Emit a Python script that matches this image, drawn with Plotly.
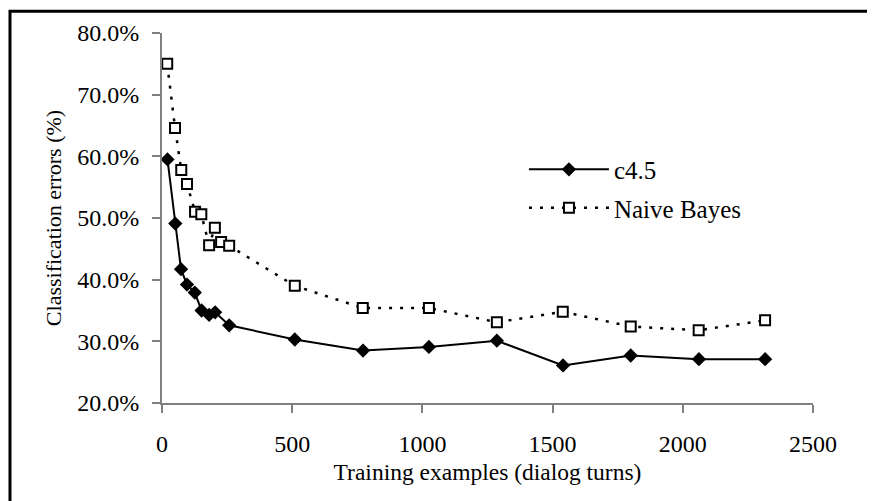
import plotly.graph_objects as go

# ---- data ----
c45_x = [21, 51, 73, 96, 126, 152, 181, 204, 258, 510, 772, 1025, 1286, 1540, 1800, 2062, 2316]
c45_y = [59.5, 49.1, 41.7, 39.2, 37.9, 35.0, 34.3, 34.7, 32.6, 30.3, 28.5, 29.1, 30.1, 26.1, 27.7, 27.1, 27.1]

nb_x = [20, 50, 74, 96, 127, 151, 181, 203, 227, 258, 510, 771, 1025, 1286, 1539, 1800, 2061, 2316]
nb_y = [75.0, 64.6, 57.8, 55.5, 51.0, 50.6, 45.6, 48.4, 46.1, 45.5, 39.0, 35.4, 35.4, 33.1, 34.8, 32.4, 31.8, 33.4]

x_ticks = [0, 500, 1000, 1500, 2000, 2500]
y_ticks = [20, 30, 40, 50, 60, 70, 80]

FONT = "Liberation Serif"

fig = go.Figure()
fig.add_trace(go.Scatter(
    x=c45_x, y=[v / 100 for v in c45_y], name="c4.5", mode="lines+markers",
    legendgroup="a",
    line=dict(color="black", width=2),
    marker=dict(symbol="diamond", size=11, color="black"),
))
fig.add_trace(go.Scatter(
    x=nb_x, y=[v / 100 for v in nb_y], name="Naive Bayes", mode="lines+markers",
    legendgroup="b",
    line=dict(color="black", width=2.5, dash="3px,8px"),
    marker=dict(symbol="square", size=10, color="white", line=dict(color="black", width=2)),
))

axis_common = dict(
    showline=True, linecolor="#808080", linewidth=2,
    ticks="outside", ticklen=8, tickcolor="#808080", tickwidth=2,
    showgrid=False, zeroline=False,
    tickfont=dict(family=FONT, size=24, color="black"),
)

fig.update_layout(
    width=867, height=493,
    margin=dict(l=154, r=62, t=25, b=98),
    paper_bgcolor="white", plot_bgcolor="white",
    font=dict(family=FONT, color="black"),
    xaxis=dict(range=[0, 2500], tickvals=x_ticks, ticklabelstandoff=10,
               title=dict(text="Training examples (dialog turns)", font=dict(family=FONT, size=23.5), standoff=8),
               **axis_common),
    yaxis=dict(range=[0.2, 0.8], tickvals=[t / 100 for t in y_ticks], tickformat=".1%",
               ticklabelstandoff=8,
               title=dict(text="Classification errors (%)", font=dict(family=FONT, size=22), standoff=10),
               **axis_common),
    legend=dict(x=0.556, y=0.693, xanchor="left", yanchor="top", bgcolor="rgba(0,0,0,0)",
                font=dict(family=FONT, size=25), itemwidth=80,
                traceorder="grouped", tracegroupgap=3),
    showlegend=True,
    shapes=[dict(type="rect", xref="paper", yref="paper",
                 x0=-0.2335, x1=1.0876, y0=-0.29, y1=1.0586,
                 line=dict(color="black", width=3), fillcolor="rgba(0,0,0,0)", layer="below")],
)

fig.write_html("out.html")
